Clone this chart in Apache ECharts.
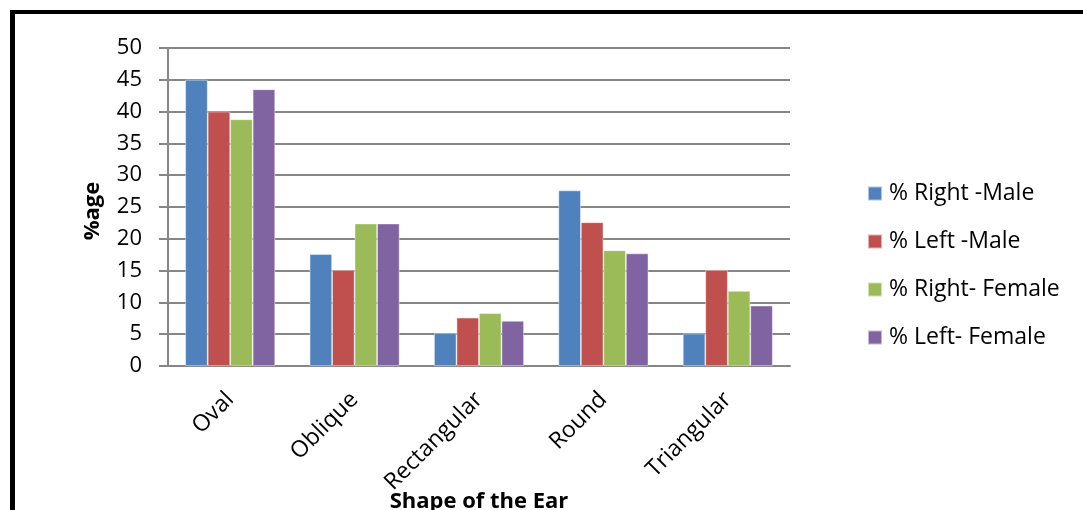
<!DOCTYPE html>
<html>
<head>
<meta charset="utf-8">
<script src="https://cdn.jsdelivr.net/npm/echarts@6/dist/echarts.min.js"></script>
<style>
  html, body { margin: 0; padding: 0; background: #fff; }
  #chart { width: 1083px; height: 510px; }
</style>
</head>
<body>
<div id="chart"></div>
<script>
// Ear shape distribution by side and sex (%)
const categories = ['Oval', 'Oblique', 'Rectangular', 'Round', 'Triangular'];
const seriesNames = ['% Right -Male', '% Left -Male', '% Right- Female', '% Left- Female'];
const rightMale   = [45.0, 17.6, 5.2, 27.6, 5.1];
const leftMale    = [40.0, 15.1, 7.6, 22.6, 15.1];
const rightFemale = [38.8, 22.4, 8.3, 18.2, 11.8];
const leftFemale  = [43.5, 22.4, 7.1, 17.7, 9.5];
const yTicks = { min: 0, max: 50, interval: 5 };

const colors = ['#4F81BD', '#C0504D', '#9BBB59', '#8064A2'];
const values = [rightMale, leftMale, rightFemale, leftFemale];
const FONT = "'Open Sans', 'Liberation Sans', sans-serif";
const AXIS_GREY = '#868686';

const chart = echarts.init(document.getElementById('chart'), null, { renderer: 'canvas' });

chart.setOption({
  animation: false,
  backgroundColor: '#ffffff',
  color: colors,
  textStyle: { fontFamily: FONT, color: '#000' },
  grid: { left: 168, right: 293, top: 48, bottom: 144, containLabel: false, outerBoundsMode: 'none' },
  legend: {
    orient: 'vertical',
    left: 862,
    top: 177,
    itemWidth: 14,
    itemHeight: 14,
    itemGap: 25,
    icon: 'rect',
    textStyle: { fontFamily: FONT, fontSize: 23, color: '#000', padding: [0, 0, 0, 2] },
    data: seriesNames
  },
  xAxis: {
    type: 'category',
    data: categories,
    name: 'Shape of the Ear',
    nameLocation: 'middle',
    nameGap: 125,
    nameMoveOverlap: false,
    nameTextStyle: { fontFamily: FONT, fontWeight: 'bold', fontSize: 22, color: '#000' },
    axisLine: { lineStyle: { color: AXIS_GREY, width: 2 } },
    axisTick: { show: false },
    axisLabel: { rotate: 45, fontSize: 23, color: '#000', margin: 30, fontFamily: FONT }
  },
  yAxis: {
    type: 'value',
    min: yTicks.min,
    max: yTicks.max,
    interval: yTicks.interval,
    name: '%age',
    nameLocation: 'middle',
    nameGap: 64,
    nameRotate: 90,
    nameTextStyle: { fontFamily: FONT, fontWeight: 'bold', fontSize: 22, color: '#000', padding: [0, 8, 0, 0] },
    axisLine: { show: true, lineStyle: { color: AXIS_GREY, width: 2 } },
    axisTick: { show: true, length: 9, lineStyle: { color: AXIS_GREY, width: 2 } },
    axisLabel: { fontSize: 22, color: '#000', margin: 26, fontFamily: FONT },
    splitLine: { show: true, lineStyle: { color: AXIS_GREY, width: 2 } }
  },
  series: seriesNames.map((name, i) => ({
    name: name,
    type: 'bar',
    data: values[i],
    barWidth: 22.5,
    barGap: '0%',
    itemStyle: { color: colors[i], borderColor: 'rgba(255,255,255,0.55)', borderWidth: 0.8 }
  })),
  graphic: [
    // outer frame: thick black edge along the left and top
    { type: 'rect', shape: { x: 10, y: 10, width: 5, height: 520 }, style: { fill: '#000' }, z: 100 },
    { type: 'rect', shape: { x: 10, y: 10, width: 1100, height: 4 }, style: { fill: '#000' }, z: 100 }
  ]
});
</script>
</body>
</html>
